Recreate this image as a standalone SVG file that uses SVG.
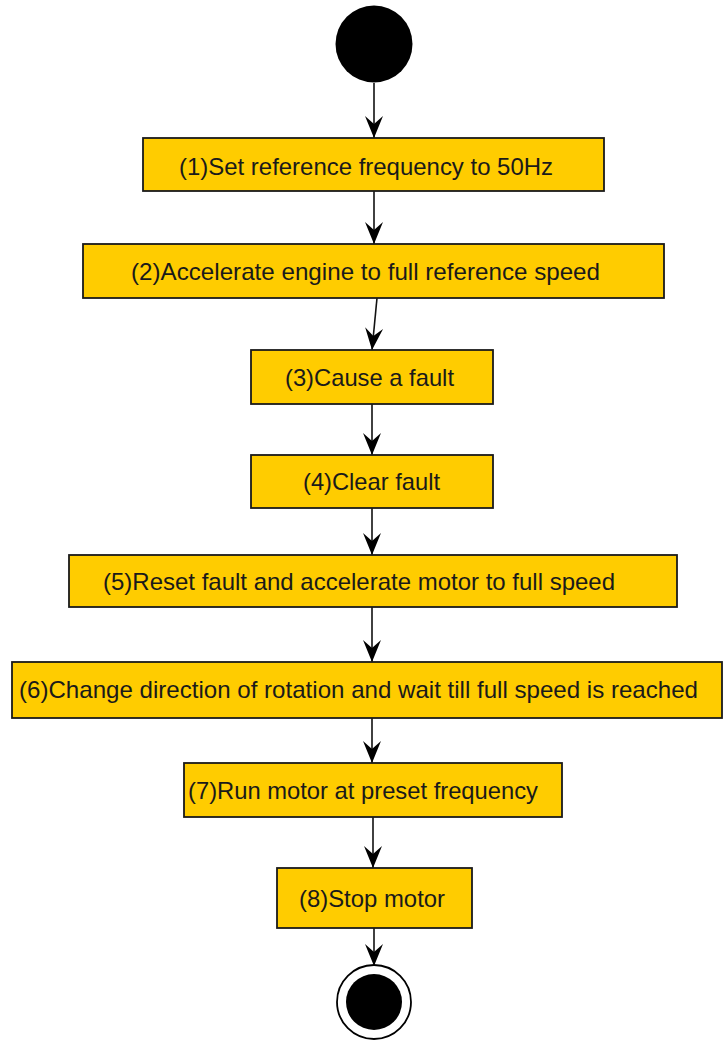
<svg xmlns="http://www.w3.org/2000/svg" width="723" height="1040" viewBox="0 0 723 1040">
<style>
.box{fill:#FFCC00;stroke:#1a1a1a;stroke-width:1.8}
.lbl{font-family:"Liberation Sans",Arial,sans-serif;font-size:24px;fill:#1a1a1a;lengthAdjust:spacingAndGlyphs}
.edge{stroke:#111;stroke-width:1.6;fill:none;marker-end:url(#ah)}
</style>
<defs>
<marker id="ah" markerWidth="24" markerHeight="20" refX="22" refY="10" orient="auto" markerUnits="userSpaceOnUse" viewBox="0 0 24 20">
<path d="M22,10 L0,1 L8,10 L0,19 Z" fill="#000"/>
</marker>
</defs>
<rect width="723" height="1040" fill="#fff"/>
<g id="edges">
<path class="edge" d="M374,83 L374,138"/>
<path class="edge" d="M374,191 L374,244"/>
<path class="edge" d="M377,298 L372,350"/>
<path class="edge" d="M372,404 L372,455"/>
<path class="edge" d="M372,508 L372,555"/>
<path class="edge" d="M372,607 L372,662"/>
<path class="edge" d="M372,718 L372,763"/>
<path class="edge" d="M373,817 L373,868"/>
<path class="edge" d="M374,928 L374,966"/>
</g>
<g id="start"><circle cx="374" cy="44" r="38.5" fill="#000"/></g>
<g id="n1"><rect class="box" x="143" y="138" width="461" height="53"/><text class="lbl" x="179" y="175" textLength="374" lengthAdjust="spacingAndGlyphs">(1)Set reference frequency to 50Hz</text></g>
<g id="n2"><rect class="box" x="83" y="244" width="581" height="54"/><text class="lbl" x="131" y="280" textLength="469" lengthAdjust="spacingAndGlyphs">(2)Accelerate engine to full reference speed</text></g>
<g id="n3"><rect class="box" x="251" y="350" width="242" height="54"/><text class="lbl" x="285" y="386" textLength="169" lengthAdjust="spacingAndGlyphs">(3)Cause a fault</text></g>
<g id="n4"><rect class="box" x="251" y="455" width="242" height="53"/><text class="lbl" x="303" y="490" textLength="137" lengthAdjust="spacingAndGlyphs">(4)Clear fault</text></g>
<g id="n5"><rect class="box" x="69" y="555" width="608" height="52"/><text class="lbl" x="103" y="590" textLength="512" lengthAdjust="spacingAndGlyphs">(5)Reset fault and accelerate motor to full speed</text></g>
<g id="n6"><rect class="box" x="12" y="662" width="710" height="56"/><text class="lbl" x="19" y="698" textLength="679" lengthAdjust="spacingAndGlyphs">(6)Change direction of rotation and wait till full speed is reached</text></g>
<g id="n7"><rect class="box" x="184" y="763" width="378" height="54"/><text class="lbl" x="188" y="799" textLength="350" lengthAdjust="spacingAndGlyphs">(7)Run motor at preset frequency</text></g>
<g id="n8"><rect class="box" x="277" y="868" width="195" height="60"/><text class="lbl" x="299" y="907" textLength="146" lengthAdjust="spacingAndGlyphs">(8)Stop motor</text></g>
<g id="end"><circle cx="374" cy="1002" r="37" fill="#fff" stroke="#000" stroke-width="1.8"/><circle cx="374" cy="1002" r="28" fill="#000"/></g>
</svg>
